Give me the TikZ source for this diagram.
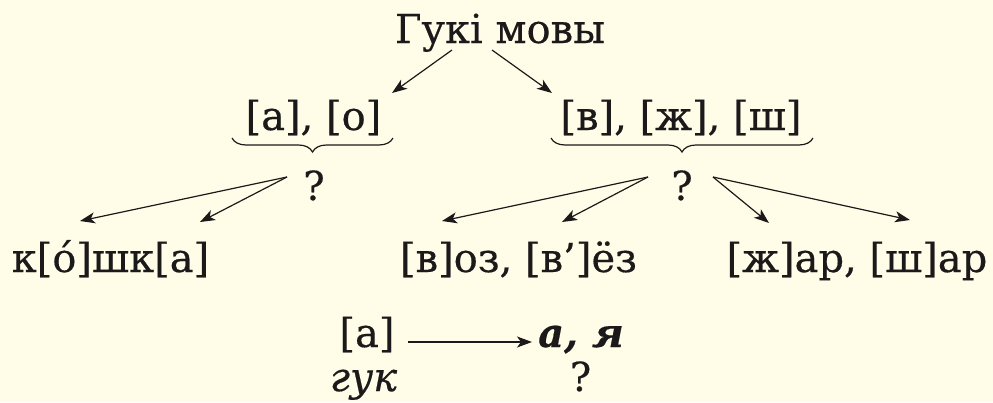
\documentclass[tikz,border=0pt]{standalone}
\usepackage{fontspec}
\setmainfont[FakeBold=0.4]{DejaVu Serif}
\usepackage{xcolor}
\usetikzlibrary{arrows.meta, calc, decorations.pathreplacing}

\definecolor{paper}{RGB}{255,253,232}
\definecolor{ink}{RGB}{28,25,26}

\begin{document}
\begin{tikzpicture}[x=1pt, y=-1pt,
  txt/.style={anchor=base, inner sep=0pt, text=ink, font=\fontsize{40}{48}\selectfont},
  lettertxt/.style={txt, font=\fontsize{40}{48}\selectfont\bfseries\itshape},
  termtxt/.style={txt, font=\fontsize{40}{48}\selectfont\itshape},
  link/.style={draw=ink, line width=1.2pt, -{Stealth[length=15pt, width=11pt, inset=4pt]}},
  groupbrace/.style={draw=ink, line width=1.2pt, decorate, decoration={brace, mirror, amplitude=14pt}}
]
\fill[paper] (0,0) rectangle (993,402);
\useasboundingbox (0,0) rectangle (993,402);

% --- Top ---
\node[txt] (title) at (500,43) {Гукі мовы};

% --- Sound groups ---
\node[txt] (ao) at (313.5,130) {[а], [о]};
\node[txt] (vzs) at (681,130) {[в], [ж], [ш]};
\node[txt] (q1) at (314,200) {?};
\node[txt] (q2) at (682,200) {?};

% --- Words ---
\node[txt] (koshka) at (110.5,272) {к[о́]шк[а]};
\node[txt] (voz) at (518.5,272) {[в]оз, [в’]ёз};
\node[txt] (zhar) at (857,272) {[ж]ар, [ш]ар};

% --- Sound and letters ---
\node[txt] (sound) at (367,347) {[а]};
\node[lettertxt] (letters) at (581,347) {а, я};
\node[termtxt] (guk) at (363.5,391) {гук};
\node[txt] (q3) at (580.5,391) {?};

% --- Braces ---
\draw[groupbrace] ($(ao.base)+(-81.5,8)$) -- ($(ao.base)+(79.5,8)$);
\draw[groupbrace] ($(vzs.base)+(-130,8)$) -- ($(vzs.base)+(132,8)$);

% --- Arrows ---
\draw[link] ($(title.base)+(-48,7)$) -- ($(ao.base)+(78.5,-37)$);
\draw[link] ($(title.base)+(-8,7)$) -- ($(vzs.base)+(-129,-37)$);
\foreach \dx/\dy in {-30.5/-51, 89.5/-50}
  \draw[link] ($(q1.base)+(-27,-23)$) -- ($(koshka.base)+(\dx,\dy)$);
\foreach \dx/\dy in {-76.5/-51, 43.5/-50}
  \draw[link] ($(q2.base)+(-34,-23)$) -- ($(voz.base)+(\dx,\dy)$);
\foreach \dx/\dy in {-88/-49, 53/-52}
  \draw[link] ($(q2.base)+(31,-23)$) -- ($(zhar.base)+(\dx,\dy)$);
\draw[link] ($(sound.base)+(41,-5)$) -- ($(letters.base)+(-49,-5)$);

\end{tikzpicture}
\end{document}
